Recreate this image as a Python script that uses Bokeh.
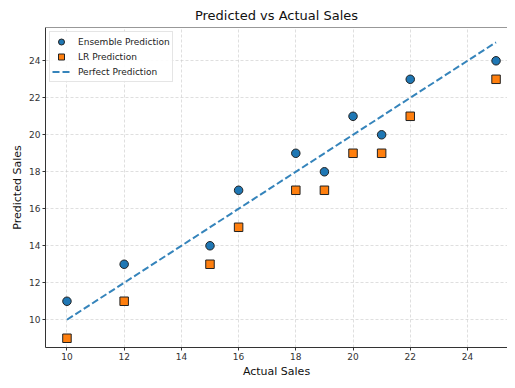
from bokeh.plotting import figure
from bokeh.models import Range1d, Span, Legend, LegendItem, FixedTicker
from bokeh.embed import file_html
from bokeh.resources import INLINE

actual = [10, 12, 15, 16, 18, 19, 20, 21, 22, 25]
ensemble_pred = [11, 13, 14, 17, 19, 18, 21, 20, 23, 24]
lr_pred = [9, 11, 13, 15, 17, 17, 19, 19, 21, 23]
perfect_x = [10, 25]
perfect_y = [10, 25]
x_ticks = [10, 12, 14, 16, 18, 20, 22, 24]
y_ticks = [10, 12, 14, 16, 18, 20, 22, 24]

FONT = "DejaVu Sans"
BLUE = "#1f77b4"
ORANGE = "#ff7f0e"

p = figure(width=507, height=380, output_backend="svg", toolbar_location=None,
           x_range=Range1d(9.25, 25.4), y_range=Range1d(8.5, 25.8),
           min_border_left=45, min_border_right=0, min_border_top=18, min_border_bottom=25)

p.title.text = "Predicted vs Actual Sales"
p.title.text_font = FONT
p.title.text_font_size = "13px"
p.title.text_font_style = "normal"
p.title.align = "center"
p.title.text_color = "#111111"
p.title.offset = 0

p.outline_line_color = None
p.background_fill_color = "white"

for ax in (p.xaxis[0], p.yaxis[0]):
    ax.axis_label_text_font = FONT
    ax.axis_label_text_font_size = "11px"
    ax.axis_label_text_font_style = "normal"
    ax.axis_label_text_color = "#111111"
    ax.major_label_text_font = FONT
    ax.major_label_text_font_size = "9px"
    ax.major_label_text_color = "#333333"
    ax.axis_line_color = "#333333"
    ax.major_tick_line_color = "#333333"
    ax.major_tick_out = 3
    ax.major_tick_in = 0
    ax.minor_tick_line_color = None
    ax.major_label_standoff = 2
    ax.axis_label_standoff = 2

p.xaxis.axis_label = "Actual Sales"
p.yaxis.axis_label = "Predicted Sales"
p.xaxis.ticker = FixedTicker(ticks=x_ticks)
p.yaxis.ticker = FixedTicker(ticks=y_ticks)

p.xgrid.ticker = FixedTicker(ticks=x_ticks)
p.ygrid.ticker = FixedTicker(ticks=y_ticks)
for g in (p.xgrid[0], p.ygrid[0]):
    g.grid_line_color = "#cccccc"
    g.grid_line_dash = "3 2"
    g.grid_line_width = 0.8
    g.grid_line_alpha = 0.8

p.add_layout(Span(location=25.8, dimension="width", line_color="#333333", line_width=1.2))

r1 = p.scatter(actual, ensemble_pred, marker="circle", size=8.5, fill_color=BLUE,
               line_color="#222222", line_width=1)
r2 = p.scatter(actual, lr_pred, marker="square", size=8.5, fill_color=ORANGE,
               line_color="#222222", line_width=1)
r3 = p.line(perfect_x, perfect_y, line_color=BLUE, line_width=2, line_dash="7 3", line_alpha=0.9)

legend = Legend(items=[LegendItem(label="Ensemble Prediction", renderers=[r1]),
                       LegendItem(label="LR Prediction", renderers=[r2]),
                       LegendItem(label="Perfect Prediction", renderers=[r3])],
                location="top_left")
legend.label_text_font = FONT
legend.label_text_font_size = "9px"
legend.label_text_color = "#222222"
legend.label_height = 12
legend.glyph_height = 15
legend.glyph_width = 18
legend.spacing = 0
legend.padding = 2
legend.margin = 4
legend.label_standoff = 8
legend.border_line_color = "#cccccc"
legend.border_line_width = 1
legend.background_fill_alpha = 0.9
p.add_layout(legend)

open("out.html", "w").write(file_html(p, INLINE))
